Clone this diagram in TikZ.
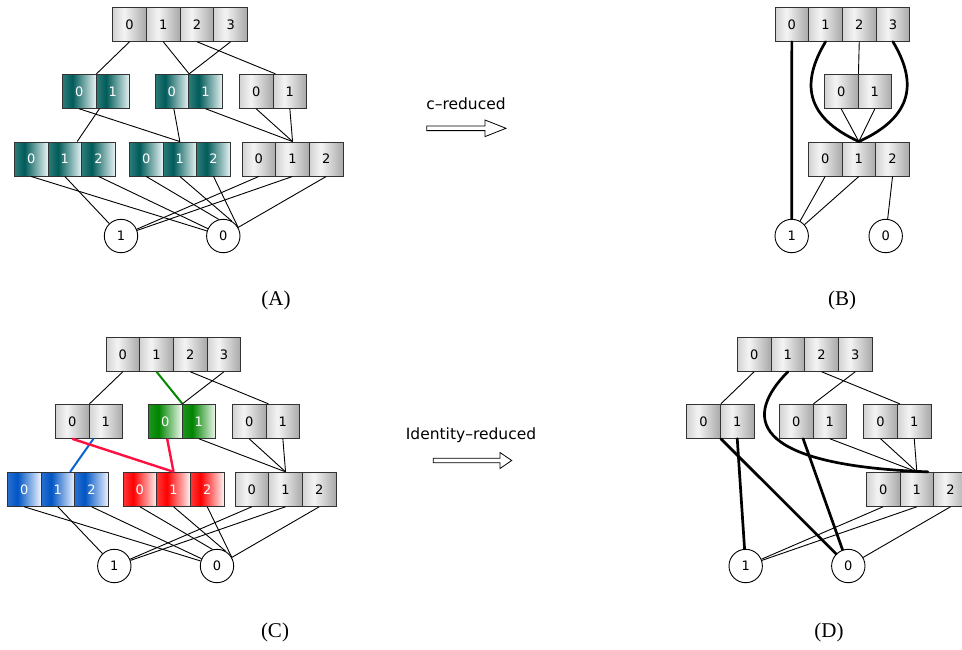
\documentclass[tikz,border=0pt]{standalone}
\usepackage{fontspec}
\setmainfont{Liberation Serif}
\newfontfamily\digitfont{DejaVu Sans}
\usetikzlibrary{calc}

% cell colours
\definecolor{cellborder}{HTML}{333333}
\definecolor{grayA}{HTML}{D2D2D2}
\definecolor{grayB}{HTML}{F4F4F4}
\definecolor{grayC}{HTML}{A8A8A8}
\definecolor{tealA}{HTML}{2E7C7A}
\definecolor{tealB}{HTML}{005B59}
\definecolor{tealC}{HTML}{EAF5F5}
\definecolor{blueA}{HTML}{2A6FD0}
\definecolor{blueB}{HTML}{0055C4}
\definecolor{blueC}{HTML}{EEF4FF}
\definecolor{redA}{HTML}{FF3838}
\definecolor{redB}{HTML}{FF0000}
\definecolor{redC}{HTML}{FFF4F4}
\definecolor{greenA}{HTML}{1E961E}
\definecolor{greenB}{HTML}{008400}
\definecolor{greenC}{HTML}{F0FAF0}
\definecolor{edgegreen}{HTML}{008A00}
\definecolor{edgeblue}{HTML}{0A64D2}
\definecolor{edgered}{HTML}{FF1040}

% horizontal cell shadings (25bp..75bp spans the cell)
\pgfdeclarehorizontalshading{graycell}{100bp}{color(0bp)=(grayA); color(25bp)=(grayA); color(42bp)=(grayB); color(75bp)=(grayC); color(100bp)=(grayC)}
\pgfdeclarehorizontalshading{tealcell}{100bp}{color(0bp)=(tealA); color(25bp)=(tealA); color(40bp)=(tealB); color(75bp)=(tealC); color(100bp)=(tealC)}
\pgfdeclarehorizontalshading{bluecell}{100bp}{color(0bp)=(blueA); color(25bp)=(blueA); color(40bp)=(blueB); color(75bp)=(blueC); color(100bp)=(blueC)}
\pgfdeclarehorizontalshading{redcell}{100bp}{color(0bp)=(redA); color(25bp)=(redA); color(40bp)=(redB); color(75bp)=(redC); color(100bp)=(redC)}
\pgfdeclarehorizontalshading{greencell}{100bp}{color(0bp)=(greenA); color(25bp)=(greenA); color(40bp)=(greenB); color(75bp)=(greenC); color(100bp)=(greenC)}

\tikzset{
  cellbox/.style={draw=cellborder, line width=0.9pt, shade, minimum width=33.7pt,
    minimum height=34pt, inner sep=0pt, font=\digitfont\fontsize{13}{15}\selectfont},
  leaf/.style={circle, draw=black, fill=white, line width=0.9pt, minimum size=33.4pt,
    inner sep=0pt, font=\digitfont\fontsize{13}{15}\selectfont},
  edge/.style={line width=0.9pt},
  heavy/.style={line width=2.7pt, line cap=round},
  caption/.style={font=\fontsize{21}{24}\selectfont},
  opname/.style={font=\digitfont\fontsize{15.5}{18}\selectfont},
  hollow/.style={draw=black, fill=white, line width=0.8pt, line join=miter}
}

% a row of adjacent numbered cells: name, left x, top y, last index, shading, text colour
\newcommand\cellrow[6]{%
  \foreach \k in {0,...,#4}{%
    \node[cellbox, shading=#5, text=#6] (#1\k) at ({#2+(\k+0.5)*33.7}, {#3+17}) {\k};
  }%
}

\begin{document}
\begin{tikzpicture}[x=1pt,y=-1pt]
\clip (0,0) rectangle (962,649);
\fill[white] (0,0) rectangle (962,649);

% ---------------- (A) ----------------
\cellrow{At}{112.7}{7.3}{3}{graycell}{black}
\cellrow{Aa}{62.3}{74.3}{1}{tealcell}{white}
\cellrow{Ab}{155}{74.3}{1}{tealcell}{white}
\cellrow{Ac}{239.3}{74.3}{1}{graycell}{black}
\cellrow{Ad}{14.3}{142}{2}{tealcell}{white}
\cellrow{Ae}{129.3}{142}{2}{tealcell}{white}
\cellrow{Af}{242}{142}{2}{graycell}{black}
\node[leaf] (Aone) at (121,236) {1};
\node[leaf] (Azero) at (223.3,236) {0};

\draw[edge] (At0.south) -- (Aa0.north east);
\draw[edge] (At1.south) -- (Ab0.north east);
\draw[edge] (At3.south) -- (Ab0.north east);
\draw[edge] (At2.south) -- ([xshift=2pt]Ac0.north east);
\draw[edge] ([xshift=3pt]Aa0.south east) -- ([xshift=-5pt]Ad1.north east);
\draw[edge] (Aa0.south) -- (Ae1.north);
\draw[edge] ([xshift=2pt]Ab0.south) -- (Ae1.north);
\draw[edge] (Ab1.south) -- (Af1.north);
\draw[edge] (Ac0.south) -- (Af1.north);
\draw[edge] (Ac1.south) -- (Af1.north);
\draw[edge] (Ad0.south) -- (Azero);
\draw[edge] (Ad1.south) -- (Aone);
\draw[edge] (Ad2.south) -- (Azero);
\draw[edge] (Ae0.south) -- (Azero.105);
\draw[edge] (Ae1.south) -- (Azero.60);
\draw[edge] (Ae2.south) -- (Azero.30);
\draw[edge] (Af0.south) -- (Aone);
\draw[edge] (Af1.south) -- (Aone);
\draw[edge] (Af2.south) -- (Azero);

\node[caption] (capA) at (276,300) {(A)};

% ---------------- (B) ----------------
\cellrow{Bt}{775}{7.3}{3}{graycell}{black}
\cellrow{Bm}{824.3}{74.3}{1}{graycell}{black}
\cellrow{Bb}{808.3}{142}{2}{graycell}{black}
\node[leaf] (Bone) at (791.7,236) {1};
\node[leaf] (Bzero) at (885.7,236) {0};

\draw[heavy] (Bt0.south) -- (Bone);
\draw[heavy] (Bt1.south) .. controls +(-24,40) and +(-55,-25) .. (Bb1.north);
\draw[heavy] (Bt3.south) .. controls +(24,40) and +(55,-25) .. (Bb1.north);
\draw[edge] (Bt2.south) -- (Bm0.north east);
\draw[edge] (Bm0.south) -- (Bb1.north);
\draw[edge] (Bm1.south) -- (Bb1.north);
\draw[edge] (Bb0.south) -- (Bone);
\draw[edge] (Bb1.south) -- (Bone);
\draw[edge] (Bb2.south) -- (Bzero);

\node[caption] (capB) at (842,300) {(B)};

% ---------------- (C) ----------------
\cellrow{Ct}{106}{337.3}{3}{graycell}{black}
\cellrow{Ca}{55.3}{404.3}{1}{graycell}{black}
\cellrow{Cb}{148.3}{404.3}{1}{greencell}{white}
\cellrow{Cc}{232.3}{404.3}{1}{graycell}{black}
\cellrow{Cd}{7.3}{472.3}{2}{bluecell}{white}
\cellrow{Ce}{123}{472.3}{2}{redcell}{white}
\cellrow{Cf}{235}{472.3}{2}{graycell}{black}
\node[leaf] (Cone) at (114.3,566) {1};
\node[leaf] (Czero) at (217,566) {0};

\draw[edge] (Ct0.south) -- (Ca0.north east);
\draw[line width=2pt, draw=edgegreen] (Ct1.south) -- (Cb0.north east);
\draw[edge] (Ct3.south) -- (Cb0.north east);
\draw[edge] (Ct2.south) -- ([xshift=2pt]Cc0.north east);
\draw[line width=2pt, draw=edgeblue] ([xshift=4pt]Ca0.south east) -- ([xshift=-5pt]Cd1.north east);
\draw[line width=2.4pt, draw=edgered] (Ca0.south) -- (Ce1.north);
\draw[line width=2.4pt, draw=edgered] ([xshift=2pt]Cb0.south) -- (Ce1.north);
\draw[edge] (Cb1.south) -- (Cf1.north);
\draw[edge] (Cc0.south) -- (Cf1.north);
\draw[edge] (Cc1.south) -- (Cf1.north);
\draw[edge] (Cd0.south) -- (Czero);
\draw[edge] (Cd1.south) -- (Cone);
\draw[edge] (Cd2.south) -- (Czero);
\draw[edge] (Ce0.south) -- (Czero.105);
\draw[edge] (Ce1.south) -- (Czero.60);
\draw[edge] (Ce2.south) -- (Czero.30);
\draw[edge] (Cf0.south) -- (Cone);
\draw[edge] (Cf1.south) -- (Cone);
\draw[edge] (Cf2.south) -- (Czero);

\node[caption] (capC) at (275,632) {(C)};

% ---------------- (D) ----------------
\cellrow{Dt}{737.3}{337.3}{3}{graycell}{black}
\cellrow{Da}{686.7}{404.3}{1}{graycell}{black}
\cellrow{Db}{779.3}{404.3}{1}{graycell}{black}
\cellrow{Dc}{863.7}{404.3}{1}{graycell}{black}
\cellrow{Dd}{866.3}{472.3}{2}{graycell}{black}
\node[leaf] (Done) at (745.7,566) {1};
\node[leaf] (Dzero) at (848.3,566) {0};

\draw[edge] (Dt0.south) -- (Da0.north east);
\draw[edge] (Dt3.south) -- (Db0.north east);
\draw[edge] (Dt2.south) -- ([xshift=2pt]Dc0.north east);
\draw[heavy] (Dt1.south) .. controls (745,415) and (745,465) .. ([xshift=11pt]Dd1.north);
\draw[heavy] (Da0.south east) -- (Dzero);
\draw[heavy] (Da1.south) -- (Done);
\draw[heavy] ([xshift=7pt]Db0.south) -- (Dzero);
\draw[edge] (Db1.south) -- (Dd1.north);
\draw[edge] (Dc0.south) -- (Dd1.north);
\draw[edge] (Dc1.south) -- (Dd1.north);
\draw[edge] (Dd0.south) -- (Done);
\draw[edge] (Dd1.south) -- (Done);
\draw[edge] (Dd2.south) -- (Dzero);

\node[caption] (capD) at (829,632) {(D)};

% ---------------- reduction arrows ----------------
\node[opname] (opc) at (466,104) {c–reduced};
\draw[hollow] (426.7,126) -- (485,126) -- (485,120) -- (506,128.3) -- (485,136.6)
  -- (485,130.6) -- (426.7,130.6) -- cycle;
\node[opname] (opid) at (471,435) {Identity–reduced};
\draw[hollow] (433.3,458.2) -- (500,458.2) -- (500,452.5) -- (511.7,460.5) -- (500,468.5)
  -- (500,462.8) -- (433.3,462.8) -- cycle;

\end{tikzpicture}
\end{document}
